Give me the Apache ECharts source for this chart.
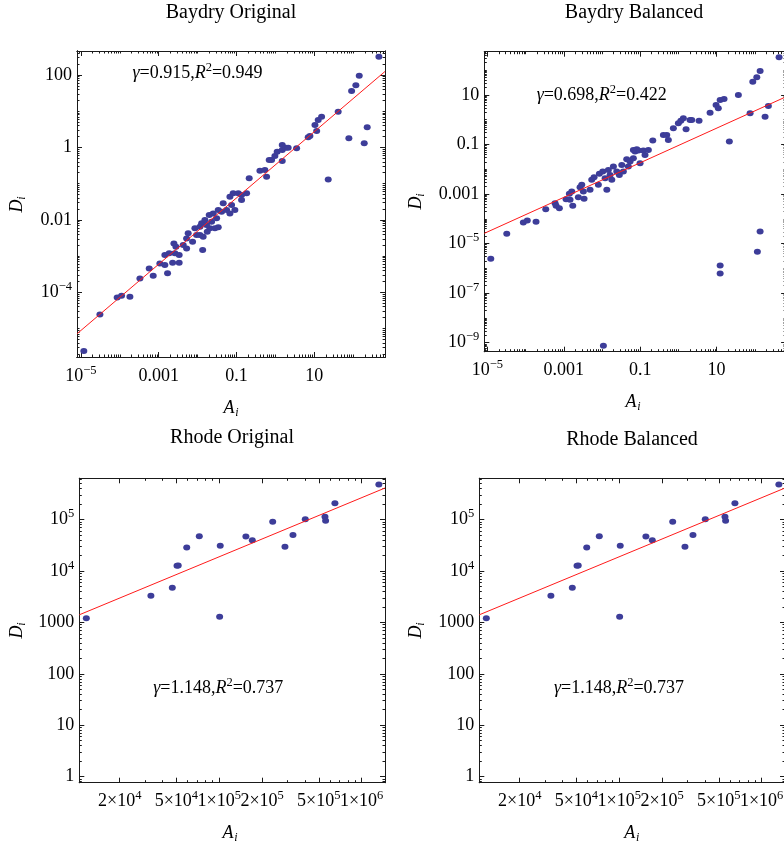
<!DOCTYPE html>
<html>
<head>
<meta charset="utf-8">
<script src="https://cdn.jsdelivr.net/npm/echarts@6/dist/echarts.min.js"></script>
<style>
html, body { margin: 0; padding: 0; background: #ffffff; overflow: hidden; }
#chart { width: 800px; height: 846px; }
</style>
</head>
<body>
<div id="chart"></div>
<script>
// ---------------- data ----------------
// Baydry, original network: area A_i and discharge D_i per node
const baydryOrigA = [1.19e-5, 3.08e-5, 8.57e-5, 1.11e-4, 1.82e-4, 3.29e-4, 5.70e-4, 7.23e-4, 1.69e-3, 1.07e-3,
  1.44e-3, 2.28e-3, 3.36e-3, 1.44e-3, 1.86e-3, 2.61e-3, 3.36e-3, 2.77e-3, 2.46e-3, 4.27e-3,
  5.22e-3, 5.22e-3, 5.73e-3, 7.43e-3, 9.41e-3, 1.35e-2, 8.53e-3, 1.15e-2, 1.27e-2, 1.54e-2,
  1.15e-2, 1.39e-2, 1.77e-2, 2.07e-2, 1.70e-2, 2.29e-2, 1.99e-2, 2.52e-2, 3.08e-2, 2.79e-2,
  3.39e-2, 3.39e-2, 4.55e-2, 4.14e-2, 5.57e-2, 6.77e-2, 9.09e-2, 7.48e-2, 6.77e-2, 8.22e-2,
  0.111, 0.135, 0.182, 0.135, 0.212, 0.400, 0.537, 0.594, 0.693, 0.799,
  0.970, 1.11, 1.50, 1.50, 1.86, 2.13, 1.50, 3.51, 6.97, 7.71,
  11.5, 10.4, 12.6, 15.4, 41.1, 22.8, 77.4, 192, 229, 91.0,
  117, 143, 458];
const baydryOrigD = [2.38e-6, 2.45e-5, 7.23e-5, 8.0e-5, 7.5e-5, 2.42e-4, 4.57e-4, 2.86e-4, 3.33e-4, 6.28e-4,
  5.64e-4, 6.53e-4, 6.53e-4, 1.07e-3, 1.19e-3, 1.19e-3, 1.07e-3, 1.81e-3, 2.24e-3, 2.01e-3,
  1.63e-3, 3.08e-3, 4.24e-3, 2.48e-3, 3.80e-3, 1.47e-3, 5.82e-3, 6.44e-3, 8.0e-3, 9.87e-3,
  3.80e-3, 3.41e-3, 4.69e-3, 5.82e-3, 7.18e-3, 8.87e-3, 1.36e-2, 1.51e-2, 1.10e-2, 5.82e-3,
  6.21e-3, 1.87e-2, 2.86e-2, 1.68e-2, 1.87e-2, 1.51e-2, 1.87e-2, 2.56e-2, 4.35e-2, 5.39e-2,
  5.39e-2, 4.84e-2, 5.39e-2, 3.52e-2, 0.140, 0.227, 0.238, 0.155, 0.449, 0.449,
  0.578, 0.760, 0.847, 1.16, 0.982, 0.982, 0.421, 0.944, 1.90, 2.07,
  2.84, 4.16, 5.72, 7.05, 9.69, 0.131, 1.78, 1.30, 3.59, 36.1,
  51.9, 95.7, 321];

// Baydry, balanced network
const baydryBalA = [1.23e-5, 3.22e-5, 8.75e-5, 1.11e-4, 1.88e-4, 3.38e-4, 5.92e-4, 6.29e-4, 7.67e-4, 1.15e-3,
  1.40e-3, 1.62e-3, 1.46e-3, 1.72e-3, 2.41e-3, 2.67e-3, 2.96e-3, 3.26e-3, 3.40e-3, 4.88e-3,
  5.40e-3, 6.21e-3, 8.05e-3, 8.55e-3, 1.05e-2, 1.21e-2, 1.34e-2, 1.47e-2, 1.63e-2, 1.81e-2,
  1.99e-2, 2.44e-2, 2.85e-2, 3.30e-2, 3.63e-2, 4.45e-2, 4.91e-2, 5.44e-2, 6.64e-2, 7.36e-2,
  8.98e-2, 9.93e-2, 0.121, 0.134, 0.164, 8.15e-2, 6.64e-2, 0.214, 0.405, 0.497,
  0.547, 0.740, 1.00, 1.16, 1.35, 1.59, 2.02, 2.24, 3.48, 6.76,
  9.70, 11.1, 12.4, 15.7, 21.6, 37.2, 75.4, 88.7, 113, 138,
  186, 227, 433, 1.09e-2, 12.4, 12.4, 117, 138];
const baydryBalD = [2.44e-6, 2.48e-5, 7.10e-5, 8.54e-5, 7.57e-5, 2.46e-4, 4.30e-4, 3.34e-4, 2.70e-4, 6.22e-4,
  1.02e-3, 1.26e-3, 5.83e-4, 3.34e-4, 7.50e-4, 1.90e-3, 2.35e-3, 1.26e-3, 6.40e-4, 1.48e-3,
  3.74e-3, 4.80e-3, 2.35e-3, 6.53e-3, 8.07e-3, 4.38e-3, 1.48e-3, 9.46e-3, 5.94e-3, 3.74e-3,
  1.29e-2, 8.07e-3, 5.94e-3, 1.50e-2, 8.07e-3, 2.55e-2, 1.29e-2, 2.04e-2, 2.80e-2, 5.18e-2,
  5.68e-2, 1.76e-2, 5.68e-2, 3.81e-2, 6.05e-2, 6.46e-2, 6.05e-2, 0.144, 0.244, 0.244,
  0.153, 0.454, 0.723, 0.920, 1.15, 0.414, 0.982, 0.982, 0.920, 1.93,
  3.95, 2.91, 6.29, 6.90, 0.131, 10.0, 1.83, 34.4, 51.8, 92.9,
  1.33, 3.60, 331, 7.57e-10, 1.31e-6, 6.22e-7, 4.67e-6, 3.08e-5];

// Rhode: the original and balanced networks carry the same values
const rhodeA = [11650, 33100, 46800, 50500, 51500, 59100, 72400, 100600, 101600, 153800,
  170600, 237300, 289300, 329400, 401900, 552500, 558300, 649000, 1321000];
const rhodeD = [1197, 3290, 4700, 12560, 12800, 28600, 47400, 1285, 30700, 46800,
  39600, 89800, 29400, 49600, 101300, 112300, 94000, 207300, 478600];

// power-law fits D = C * A^gamma (log10 C listed)
const fitGamma = [0.915, 0.698, 1.148, 1.148];
const fitLogC = [-0.48, -1.04, -1.465, -1.465];
const fitR2 = [0.949, 0.422, 0.737, 0.737];

// tick values and their labels
const baydryXTicks = [1e-5, 1e-3, 0.1, 10];
const baydryXLabels = ['10^−5', '0.001', '0.1', '10'];
const baydryOrigYTicks = [1e-4, 0.01, 1, 100];
const baydryOrigYLabels = ['10^−4', '0.01', '1', '100'];
const baydryBalYTicks = [1e-9, 1e-7, 1e-5, 1e-3, 0.1, 10];
const baydryBalYLabels = ['10^−9', '10^−7', '10^−5', '0.001', '0.1', '10'];
const rhodeXTicks = [2e4, 5e4, 1e5, 2e5, 5e5, 1e6];
const rhodeXLabels = ['2×10^4', '5×10^4', '1×10^5', '2×10^5', '5×10^5', '1×10^6'];
const rhodeYTicks = [1, 10, 100, 1000, 1e4, 1e5];
const rhodeYLabels = ['1', '10', '100', '1000', '10^4', '10^5'];

const panelTitles = ['Baydry Original', 'Baydry Balanced', 'Rhode Original', 'Rhode Balanced'];

// ---------------- layout ----------------
const FONT = "'Liberation Serif', 'DejaVu Serif', serif";
const panels = [
  { A: baydryOrigA, D: baydryOrigD, xr: [-5.10, 2.82], yr: [-5.787, 2.663],
    rect: { left: 77, top: 51, width: 308.1, height: 306 },
    xt: baydryXTicks, xl: baydryXLabels, yt: baydryOrigYTicks, yl: baydryOrigYLabels,
    titleAt: [231, 13], noteAt: [197.5, 73.5], yNameAt: [17, 204], xNameAt: [231, 408] },
  { A: baydryBalA, D: baydryBalD, xr: [-5.08, 2.82], yr: [-9.363, 2.746],
    rect: { left: 484.3, top: 51.7, width: 301.8, height: 300 },
    xt: baydryXTicks, xl: baydryXLabels, yt: baydryBalYTicks, yl: baydryBalYLabels,
    titleAt: [634, 13], noteAt: [601.7, 95], yNameAt: [416, 201], xNameAt: [633, 402] },
  { A: rhodeA, D: rhodeD, xr: [4.017, 6.164], yr: [-0.117, 5.80],
    rect: { left: 79.3, top: 478.3, width: 305.7, height: 304.4 },
    xt: rhodeXTicks, xl: rhodeXLabels, yt: rhodeYTicks, yl: rhodeYLabels,
    titleAt: [232, 438], noteAt: [218.3, 688.3], yNameAt: [17, 630], xNameAt: [230, 833] },
  { A: rhodeA, D: rhodeD, xr: [4.017, 6.164], yr: [-0.117, 5.80],
    rect: { left: 479.3, top: 478.3, width: 305.7, height: 304.4 },
    xt: rhodeXTicks, xl: rhodeXLabels, yt: rhodeYTicks, yl: rhodeYLabels,
    titleAt: [632, 440], noteAt: [619, 688.3], yNameAt: [416, 630], xNameAt: [631.7, 833] }
];

// ---------------- helpers ----------------
function richLabel(s) {
  const k = s.indexOf('^');
  if (k < 0) return '{b|' + s + '}';
  return '{b|' + s.slice(0, k) + '}{s|' + s.slice(k + 1) + '}';
}
const labelRich = {
  b: { fontFamily: FONT, fontSize: 18, lineHeight: 24, color: '#000' },
  s: { fontFamily: FONT, fontSize: 12.5, lineHeight: 10, verticalAlign: 'top', color: '#000' }
};
function minorTicks(range, majors) {
  const out = [];
  for (let k = Math.floor(range[0]); k <= Math.ceil(range[1]); k++) {
    for (let m = 1; m <= 9; m++) {
      const v = m * Math.pow(10, k);
      const lv = Math.log10(v);
      if (lv < range[0] || lv > range[1]) continue;
      if (majors.some(t => Math.abs(Math.log10(t) - lv) < 1e-9)) continue;
      out.push(v);
    }
  }
  return out;
}
function makeFormatter(ticks, labels) {
  return function (v) {
    const lv = Math.log10(v);
    for (let i = 0; i < ticks.length; i++) {
      if (Math.abs(Math.log10(ticks[i]) - lv) < 1e-6) return richLabel(labels[i]);
    }
    return '';
  };
}

// Axes per side: two labelled sets (alternate ticks, so crowded neighbours are
// never dropped), mirrored majors, minors and mirrored minors.
function buildAxes(dim, gi, range, ticks, labels) {
  const pos = dim === 'x' ? ['bottom', 'top'] : ['left', 'right'];
  const minors = minorTicks(range, ticks);
  const evens = ticks.filter((t, k) => k % 2 === 0);
  const odds = ticks.filter((t, k) => k % 2 === 1);
  const base = {
    type: 'log', logBase: 10, gridIndex: gi,
    min: Math.pow(10, range[0]), max: Math.pow(10, range[1]),
    splitLine: { show: false }, minorTick: { show: false }, minorSplitLine: { show: false },
    axisLine: { show: true, onZero: false, lineStyle: { color: '#1a1a1a', width: 1 } },
    axisPointer: { show: false }, silent: true
  };
  const list = [];
  [[pos[0], evens, 5, true], [pos[0], odds, 5, true], [pos[1], ticks, 5, false],
   [pos[0], minors, 2.5, false], [pos[1], minors, 2.5, false]]
    .forEach(([p, vals, len, withLabels]) => {
      list.push(Object.assign({}, base, {
        position: p,
        axisTick: { show: true, inside: true, length: len, customValues: vals, lineStyle: { color: '#1a1a1a', width: 1 } },
        axisLabel: withLabels ? {
          show: true, customValues: vals, margin: dim === 'x' ? 7 : 5,
          formatter: makeFormatter(ticks, labels), rich: labelRich, hideOverlap: false
        } : { show: false }
      }));
    });
  return list;
}

// ---------------- option ----------------
const grids = [], xAxes = [], yAxes = [], series = [], graphics = [];
panels.forEach((p, i) => {
  grids.push(Object.assign({ outerBoundsMode: 'none', containLabel: false }, p.rect));
  const xi = xAxes.length, yi = yAxes.length;
  xAxes.push(...buildAxes('x', i, p.xr, p.xt, p.xl));
  yAxes.push(...buildAxes('y', i, p.yr, p.yt, p.yl));

  series.push({
    type: 'scatter', xAxisIndex: xi, yAxisIndex: yi,
    data: p.A.map((a, k) => [a, p.D[k]]),
    symbol: 'circle', symbolSize: [7, 6],
    itemStyle: { color: '#3d3d99', opacity: 1 },
    silent: true, animation: false
  });
  const x0 = Math.pow(10, p.xr[0]), x1 = Math.pow(10, p.xr[1]);
  const fit = a => Math.pow(10, fitLogC[i]) * Math.pow(a, fitGamma[i]);
  series.push({
    type: 'line', xAxisIndex: xi, yAxisIndex: yi,
    data: [[x0, fit(x0)], [x1, fit(x1)]],
    symbol: 'none', clip: true, silent: true, animation: false,
    lineStyle: { color: '#ff1a1a', width: 1 }
  });

  // panel title
  graphics.push({
    type: 'text', x: p.titleAt[0], y: p.titleAt[1], silent: true,
    style: { text: panelTitles[i], fontFamily: FONT, fontSize: 20, fill: '#000',
      align: 'center', verticalAlign: 'middle', textAlign: 'center', textVerticalAlign: 'middle' }
  });
  // fit annotation
  graphics.push({
    type: 'text', x: p.noteAt[0], y: p.noteAt[1], silent: true,
    style: {
      text: '{it|γ}{n|=' + fitGamma[i].toFixed(3) + ',}{it|R}{s|2}{n|=' + fitR2[i].toFixed(3) + '}',
      rich: {
        it: { fontFamily: FONT, fontStyle: 'italic', fontSize: 18, lineHeight: 24, fill: '#000', color: '#000' },
        n: { fontFamily: FONT, fontSize: 18, lineHeight: 24, fill: '#000', color: '#000' },
        s: { fontFamily: FONT, fontSize: 12.5, lineHeight: 10, verticalAlign: 'top', fill: '#000', color: '#000' }
      },
      align: 'center', verticalAlign: 'middle', textAlign: 'center', textVerticalAlign: 'middle'
    }
  });
  // axis names
  graphics.push({
    type: 'group', x: p.yNameAt[0], y: p.yNameAt[1], rotation: Math.PI / 2, silent: true,
    children: [
      { type: 'text', x: -2, y: 0, style: { text: 'D', fontFamily: FONT, fontStyle: 'italic', fontSize: 18, fill: '#000', align: 'center', verticalAlign: 'middle' } },
      { type: 'text', x: 6, y: 5, style: { text: 'i', fontFamily: FONT, fontStyle: 'italic', fontSize: 12, fill: '#000', align: 'center', verticalAlign: 'middle' } }
    ]
  });
  graphics.push({
    type: 'group', x: p.xNameAt[0], y: p.xNameAt[1], silent: true,
    children: [
      { type: 'text', x: -2, y: 0, style: { text: 'A', fontFamily: FONT, fontStyle: 'italic', fontSize: 18, fill: '#000', align: 'center', verticalAlign: 'middle' } },
      { type: 'text', x: 6, y: 5, style: { text: 'i', fontFamily: FONT, fontStyle: 'italic', fontSize: 12, fill: '#000', align: 'center', verticalAlign: 'middle' } }
    ]
  });
});

const chart = echarts.init(document.getElementById('chart'), null, { renderer: 'canvas' });
chart.setOption({
  animation: false,
  backgroundColor: '#ffffff',
  textStyle: { fontFamily: FONT },
  grid: grids,
  xAxis: xAxes,
  yAxis: yAxes,
  series: series,
  graphic: { elements: graphics }
});
</script>
</body>
</html>
